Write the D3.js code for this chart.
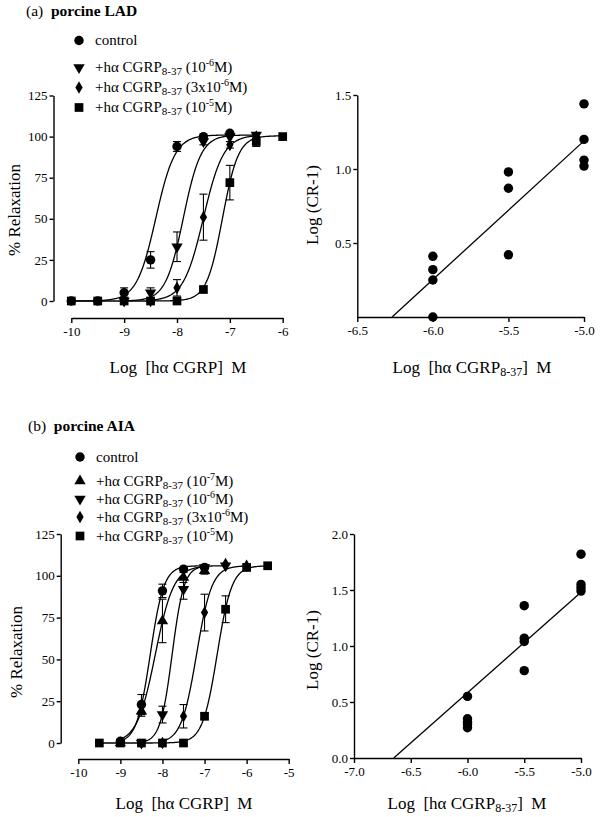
<!DOCTYPE html>
<html><head><meta charset="utf-8">
<script src="https://cdn.jsdelivr.net/npm/d3@7"></script>
<style>
body{margin:0;background:#fff;}
svg text{font-family:"Liberation Serif","Times New Roman",serif;fill:#000;white-space:pre;}
</style></head>
<body><svg id="c" width="600" height="817"></svg>
<script>
// ---------- DATA ----------
// Panel (a) porcine LAD – concentration-response
const aCtrlX = [-10,-9.5,-9,-8.5,-8,-7.5,-7];
const aCtrlY = [0,0,5,25,94,100,102];
const aCtrlE = [0,0,3,5,3,1,1];
const aT6X = [-9,-8.5,-8,-7.5,-7,-6.5];
const aT6Y = [0,5,33,97,100,101];
const aT6E = [0,3,9,2,0,0];
const aD3X = [-8.5,-8,-7.5,-7,-6.5];
const aD3Y = [0,8,51,95,100];
const aD3E = [0,5,14,2,1];
const aS5X = [-10,-9.5,-9,-8.5,-8,-7.5,-7,-6.5,-6];
const aS5Y = [0,0,0,0,0,7,72,97,100];
const aS5E = [0,0,0,0,0,1,10.5,3,0];
// fitted sigmoid parameters (control, 1e-6, 3e-6, 1e-5)
const aEC50 = [-8.40,-7.88,-7.50,-7.14];
const aHill = [2.4,2.6,2.3,2.9];
const aTop  = [101,101,101,100.5];
// Panel (a) Schild plot
const aSchX = [-6,-6,-6,-6,-5.5,-5.5,-5.5,-5,-5,-5,-5];
const aSchY = [0.41,0.32,0.25,0.0,0.98,0.87,0.42,1.44,1.20,1.06,1.02];
const aRegX = [-6.27,-5.0];
const aRegY = [0,1.19];

// Panel (b) porcine AIA
const bCtrlX = [-9,-8.5,-8,-7.5,-7];
const bCtrlY = [1,23,91,104,105];
const bCtrlE = [0,6,4,1,1];
const bU7X = [-9,-8.5,-8,-7.5,-7];
const bU7Y = [0,19,73,99,103];
const bU7E = [0,3,13,3,2];
const bT6X = [-8.5,-8,-7.5,-7,-6.5];
const bT6Y = [0,17,92,105,106];
const bT6E = [0,5,6,1,1];
const bD3X = [-8,-7.5,-7,-6.5,-6];
const bD3Y = [0,16,78,107,106];
const bD3E = [0,7,11,1,1];
const bS5X = [-9.5,-9,-8.5,-8,-7.5,-7,-6.5,-6,-5.5];
const bS5Y = [0,0,0,0,0,16,80,105,106];
const bS5E = [0,0,0,0,0,2,8,1,1];
const bEC50 = [-8.29,-8.17,-7.77,-7.19,-6.70];
const bHill = [2.7,2.0,3.1,2.4,2.5];
const bTop  = [106,106,106,106,106];
const bSchX = [-6,-6,-6,-6,-6,-5.5,-5.5,-5.5,-5.5,-5,-5,-5,-5];
const bSchY = [0.55,0.35,0.32,0.30,0.27,1.36,1.07,1.04,0.78,1.82,1.55,1.52,1.49];
const bRegX = [-6.65,-5.0];
const bRegY = [0,1.48];

const pctTicks = [0,25,50,75,100,125];
const aLogTicks = [-10,-9,-8,-7,-6];
const bLogTicks = [-10,-9,-8,-7,-6,-5];
const aSchXTicks = [-6.5,-6.0,-5.5,-5.0];
const aSchYTicks = [0.5,1.0,1.5];
const bSchXTicks = [-7.0,-6.5,-6.0,-5.5,-5.0];
const bSchYTicks = [0.0,0.5,1.0,1.5,2.0];

const legendA = [
  {sym:"circle", main:"control"},
  {sym:"tdown", conc:["(10","-6","M)"]},
  {sym:"diamond", conc:["(3x10","-6","M)"]},
  {sym:"square", conc:["(10","-5","M)"]}
];
const legendB = [
  {sym:"circle", main:"control"},
  {sym:"tup", conc:["(10","-7","M)"]},
  {sym:"tdown", conc:["(10","-6","M)"]},
  {sym:"diamond", conc:["(3x10","-6","M)"]},
  {sym:"square", conc:["(10","-5","M)"]}
];

// ---------- DRAW ----------
const svg = d3.select("#c");
const SERIF = "'Liberation Serif','Times New Roman',serif";

function symPath(s){
  if(s==="circle") return d3.symbol(d3.symbolCircle,70)();
  if(s==="square") return d3.symbol(d3.symbolSquare,76)();
  if(s==="diamond") return d3.symbol(d3.symbolDiamond,46)();
  return d3.symbol(d3.symbolTriangle,56)();
}
function drawSym(g,s,x,y){
  let t = `translate(${x},${y})`;
  if(s==="tdown") t += " rotate(180)";
  g.append("path").attr("d",symPath(s)).attr("transform",t).attr("fill","#000");
}
function styleAxis(g,fs){
  g.attr("font-family",SERIF);
  g.selectAll("path.domain").attr("stroke","#000").attr("stroke-width",1.4);
  g.selectAll(".tick line").attr("stroke","#000").attr("stroke-width",1.4);
  g.selectAll(".tick text").attr("font-size",fs).style("font-family",SERIF).attr("fill","#000");
}

function hill(x,ec,n,top){ return top/(1+Math.pow(10,n*(ec-x))); }

function doseResponse(opt){
  const x = d3.scaleLinear().domain(opt.xd).range(opt.xr);
  const y = d3.scaleLinear().domain([0,125]).range(opt.yr);
  const g = svg.append("g");
  const ya = g.append("g").attr("transform",`translate(${opt.yAxisX},0)`)
    .call(d3.axisLeft(y).tickValues(pctTicks).tickSize(4).tickSizeOuter(0).tickPadding(2));
  styleAxis(ya,13);
  const xa = g.append("g").attr("transform",`translate(0,${opt.xAxisY})`)
    .call(d3.axisBottom(x).tickValues(opt.xt).tickSize(5).tickSizeOuter(0).tickPadding(4).tickFormat(d=>String(d)));
  styleAxis(xa,13);
  const line = d3.line().x(d=>x(d[0])).y(d=>y(d[1]));
  opt.series.forEach((s,i)=>{
    const x0 = d3.min(s.x), x1 = d3.max(s.x);
    const pts = d3.range(0,201).map(k=>{const xv = x0+(x1-x0)*k/200; return [xv,hill(xv,opt.ec[i],opt.n[i],opt.top[i])];});
    g.append("path").attr("d",line(pts)).attr("fill","none").attr("stroke","#000").attr("stroke-width",1.3);
  });
  opt.series.forEach(s=>{
    s.x.forEach((xv,k)=>{
      const e = s.e[k];
      if(e>1.5){
        const px = x(xv), y1=y(s.y[k]+e), y2=y(s.y[k]-e);
        g.append("line").attr("x1",px).attr("x2",px).attr("y1",y1).attr("y2",y2).attr("stroke","#000").attr("stroke-width",1.1);
        [y1,y2].forEach(yy=>g.append("line").attr("x1",px-4).attr("x2",px+4).attr("y1",yy).attr("y2",yy).attr("stroke","#000").attr("stroke-width",1.1));
      }
    });
  });
  opt.series.forEach(s=>{
    s.x.forEach((xv,k)=>drawSym(g,s.sym,x(xv),y(s.y[k])));
  });
  g.append("text").attr("x",opt.xlabX).attr("y",opt.xlabY).attr("text-anchor","middle").attr("font-size",17)
    .text("Log  [hα CGRP]  M");
  g.append("text").attr("transform",`translate(${opt.ylabX},${opt.ylabY}) rotate(-90)`).attr("text-anchor","middle").attr("font-size",17)
    .text("% Relaxation");
}

function schild(opt){
  const x = d3.scaleLinear().domain(opt.xd).range(opt.xr);
  const y = d3.scaleLinear().domain(opt.yd).range(opt.yr);
  const g = svg.append("g");
  const fmt = d=>d3.format(".1f")(d).replace("−","-");
  const ya = g.append("g").attr("transform",`translate(${opt.xr[0]},0)`)
    .call(d3.axisLeft(y).tickValues(opt.yt).tickSize(4).tickSizeOuter(0).tickPadding(2).tickFormat(fmt));
  styleAxis(ya,13);
  const xa = g.append("g").attr("transform",`translate(0,${opt.yr[0]})`)
    .call(d3.axisBottom(x).tickValues(opt.xt).tickSize(5).tickSizeOuter(0).tickPadding(4).tickFormat(fmt));
  styleAxis(xa,13);
  g.append("line").attr("x1",x(opt.rx[0])).attr("y1",y(opt.ry[0])).attr("x2",x(opt.rx[1])).attr("y2",y(opt.ry[1]))
    .attr("stroke","#000").attr("stroke-width",1.3);
  opt.px.forEach((xv,k)=>drawSym(g,"circle",x(xv),y(opt.py[k])));
  const t = g.append("text").attr("x",opt.xlabX).attr("y",opt.xlabY).attr("text-anchor","middle").attr("font-size",17);
  t.append("tspan").text("Log  [hα CGRP");
  t.append("tspan").attr("font-size",12).attr("dy",3).text("8-37");
  t.append("tspan").attr("dy",-3).text("]  M");
  g.append("text").attr("transform",`translate(${opt.ylabX},${opt.ylabY}) rotate(-90)`).attr("text-anchor","middle").attr("font-size",17)
    .text("Log (CR-1)");
}

function title(x,y,lab,name){
  const t = svg.append("text").attr("x",x).attr("y",y).attr("font-size",15.5);
  t.append("tspan").text(lab+"  ");
  t.append("tspan").attr("font-weight","bold").text(name);
}
function legend(items,x0,ys){
  items.forEach((it,i)=>{
    drawSym(svg,it.sym,x0,ys[i]-4.5);
    const t = svg.append("text").attr("x",x0+16).attr("y",ys[i]).attr("font-size",15);
    if(it.main){ t.text(it.main); return; }
    t.append("tspan").text("+hα CGRP");
    t.append("tspan").attr("font-size",11).attr("dy",3).text("8-37");
    t.append("tspan").attr("dy",-3).text(" "+it.conc[0]);
    t.append("tspan").attr("font-size",10).attr("dy",-6).text(it.conc[1]);
    t.append("tspan").attr("dy",6).text(it.conc[2]);
  });
}

// (a)
title(26,16,"(a)","porcine LAD");
legend(legendA,79,[45,72,92,112]);
doseResponse({
  xd:[-10,-6], xr:[71.3,282.7], yr:[301,95.5], yAxisX:53.5, xAxisY:318, xt:aLogTicks,
  series:[
    {x:aCtrlX,y:aCtrlY,e:aCtrlE,sym:"circle"},
    {x:aT6X,y:aT6Y,e:aT6E,sym:"tdown"},
    {x:aD3X,y:aD3Y,e:aD3E,sym:"diamond"},
    {x:aS5X,y:aS5Y,e:aS5E,sym:"square"}
  ],
  ec:aEC50, n:aHill, top:aTop, xlabX:178, xlabY:373, ylabX:20, ylabY:210
});
schild({xd:[-6.5,-5.0], xr:[357.3,584], yd:[0,1.5], yr:[317,95], xt:aSchXTicks, yt:aSchYTicks,
  px:aSchX, py:aSchY, rx:aRegX, ry:aRegY, xlabX:472, xlabY:373, ylabX:318, ylabY:205});

// (b)
title(28,431,"(b)","porcine AIA");
legend(legendB,80,[461.5,485.5,503.5,521.5,540.5]);
doseResponse({
  xd:[-10,-5], xr:[78.3,288.7], yr:[743,534], yAxisX:60.7, xAxisY:759, xt:bLogTicks,
  series:[
    {x:bCtrlX,y:bCtrlY,e:bCtrlE,sym:"circle"},
    {x:bU7X,y:bU7Y,e:bU7E,sym:"tup"},
    {x:bT6X,y:bT6Y,e:bT6E,sym:"tdown"},
    {x:bD3X,y:bD3Y,e:bD3E,sym:"diamond"},
    {x:bS5X,y:bS5Y,e:bS5E,sym:"square"}
  ],
  ec:bEC50, n:bHill, top:bTop, xlabX:184, xlabY:809, ylabX:22, ylabY:652
});
schild({xd:[-7.0,-5.0], xr:[354,581], yd:[0,2], yr:[758,534], xt:bSchXTicks, yt:bSchYTicks,
  px:bSchX, py:bSchY, rx:bRegX, ry:bRegY, xlabX:467, xlabY:809, ylabX:318, ylabY:650});
</script></body></html>
